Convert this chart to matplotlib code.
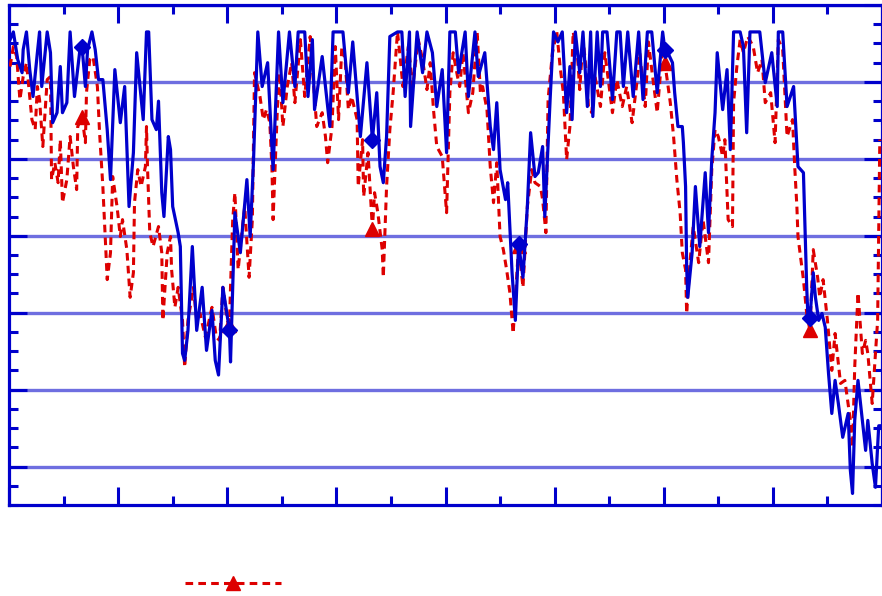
import numpy as np
import matplotlib.pyplot as plt
from matplotlib.lines import Line2D
from matplotlib.ticker import MultipleLocator

# Solid blue series (diamonds)
blue_t = [0.01, 0.04, 0.08, 0.12, 0.13, 0.16, 0.19, 0.22, 0.26, 0.28,
          0.30, 0.35, 0.38, 0.40, 0.44, 0.47, 0.49, 0.53, 0.56, 0.60,
          0.65, 0.67, 0.70, 0.72, 0.76, 0.79, 0.82, 0.86, 0.90, 0.93,
          0.97, 1.02, 1.06, 1.10, 1.14, 1.17, 1.23, 1.26, 1.28, 1.31,
          1.35, 1.37, 1.40, 1.42, 1.46, 1.48, 1.50, 1.55, 1.57, 1.59,
          1.61, 1.64, 1.68, 1.72, 1.77, 1.81, 1.86, 1.89, 1.92, 1.96,
          2.02, 2.03, 2.05, 2.07, 2.12, 2.18, 2.21, 2.24, 2.28, 2.32,
          2.37, 2.42, 2.47, 2.51, 2.57, 2.62, 2.65, 2.71, 2.74, 2.78,
          2.80, 2.87, 2.94, 2.97, 3.06, 3.11, 3.15, 3.22, 3.28, 3.33,
          3.37, 3.40, 3.43, 3.46, 3.49, 3.56, 3.60, 3.63, 3.67, 3.68,
          3.74, 3.79, 3.83, 3.88, 3.92, 3.97, 4.01, 4.04, 4.09, 4.12,
          4.18, 4.21, 4.27, 4.30, 4.36, 4.41, 4.44, 4.47, 4.50, 4.55,
          4.57, 4.61, 4.64, 4.67, 4.71, 4.75, 4.78, 4.82, 4.85, 4.89,
          4.91, 4.96, 4.99, 5.03, 5.07, 5.11, 5.14, 5.16, 5.19, 5.23,
          5.26, 5.30, 5.33, 5.35, 5.39, 5.42, 5.44, 5.48, 5.53, 5.57,
          5.60, 5.63, 5.67, 5.72, 5.77, 5.81, 5.85, 5.89, 5.94, 5.99,
          6.01, 6.03, 6.08, 6.10, 6.13, 6.17, 6.18, 6.20, 6.21, 6.22,
          6.26, 6.29, 6.33, 6.38, 6.41, 6.44, 6.47, 6.49, 6.54, 6.58,
          6.61, 6.64, 6.70, 6.73, 6.76, 6.79, 6.88, 6.93, 6.99, 7.04,
          7.05, 7.09, 7.13, 7.19, 7.22, 7.23, 7.28, 7.31, 7.32, 7.34,
          7.37, 7.39, 7.42, 7.45, 7.48, 7.51, 7.54, 7.57, 7.60, 7.64,
          7.69, 7.71, 7.73, 7.75, 7.78, 7.82, 7.85, 7.87, 7.91, 7.94,
          7.97, 8.00]
blue_v = [5.55, 5.65, 5.29, 5.12, 5.42, 5.65, 5.16, 4.81, 5.38, 5.65,
          4.94, 5.65, 5.38, 4.47, 4.60, 5.20, 4.60, 4.73, 5.65, 4.81,
          5.42, 5.45, 4.94, 5.42, 5.65, 5.42, 5.03, 5.03, 4.38, 3.73,
          5.16, 4.47, 4.94, 3.38, 4.08, 5.38, 4.51, 5.65, 5.65, 4.51,
          4.38, 4.75, 3.56, 3.25, 4.29, 4.12, 3.38, 3.04, 2.86, 1.47,
          1.38, 1.77, 2.86, 1.77, 2.33, 1.51, 2.03, 1.38, 1.19, 2.33,
          1.77, 1.36, 2.33, 3.30, 2.78, 3.73, 2.99, 3.95, 5.65, 4.94,
          5.25, 3.86, 5.65, 4.73, 5.65, 4.94, 5.65, 5.65, 4.81, 5.55,
          4.64, 5.33, 4.42, 5.65, 5.65, 4.86, 5.52, 4.29, 5.25, 4.25,
          4.86, 3.90, 3.69, 4.29, 5.59, 5.65, 5.65, 4.81, 5.65, 4.42,
          5.65, 5.12, 5.65, 5.38, 4.68, 5.16, 4.08, 5.65, 5.65, 5.12,
          5.65, 4.81, 5.65, 5.07, 5.38, 4.42, 4.12, 4.73, 3.86, 3.47,
          3.69, 2.52, 1.90, 2.89, 2.46, 3.38, 4.34, 3.77, 3.82, 4.16,
          3.25, 4.81, 5.65, 5.52, 5.65, 4.60, 5.20, 4.51, 5.65, 5.12,
          5.65, 4.68, 5.65, 4.55, 5.65, 4.94, 5.65, 5.65, 4.77, 5.65,
          5.65, 4.94, 5.65, 4.81, 5.65, 4.77, 5.65, 5.65, 4.86, 5.65,
          5.42, 5.40, 5.25, 4.86, 4.42, 4.42, 4.21, 3.64, 2.59, 2.20,
          2.78, 3.64, 2.86, 3.82, 3.04, 3.99, 4.60, 5.38, 4.64, 5.16,
          4.12, 5.65, 5.65, 5.46, 4.34, 5.65, 5.65, 4.99, 5.38, 4.68,
          5.65, 5.65, 4.68, 4.94, 4.16, 3.90, 3.82, 2.33, 1.99, 1.93,
          2.52, 2.20, 1.90, 1.99, 1.81, 1.21, 0.69, 1.12, 0.82, 0.38,
          0.69, -0.05, -0.35, 0.60, 1.12, 0.60, 0.21, 0.60, 0.04, -0.27,
          0.53, 0.53]

# Dashed red series (triangles)
red_t = [0.01, 0.04, 0.07, 0.10, 0.13, 0.16, 0.21, 0.24, 0.26, 0.28,
         0.31, 0.35, 0.38, 0.39, 0.42, 0.45, 0.47, 0.49, 0.53, 0.56,
         0.59, 0.62, 0.63, 0.67, 0.70, 0.71, 0.74, 0.77, 0.81, 0.83,
         0.86, 0.90, 0.93, 0.95, 0.99, 1.02, 1.04, 1.08, 1.11, 1.14,
         1.15, 1.18, 1.21, 1.25, 1.26, 1.27, 1.29, 1.32, 1.37, 1.40,
         1.41, 1.45, 1.48, 1.49, 1.52, 1.55, 1.59, 1.61, 1.64, 1.69,
         1.72, 1.75, 1.80, 1.86, 1.90, 1.93, 1.96, 2.00, 2.02, 2.03,
         2.05, 2.07, 2.10, 2.14, 2.16, 2.20, 2.23, 2.25, 2.30, 2.33,
         2.36, 2.39, 2.41, 2.42, 2.46, 2.48, 2.51, 2.55, 2.59, 2.62,
         2.67, 2.71, 2.76, 2.79, 2.82, 2.87, 2.90, 2.92, 2.96, 2.99,
         3.02, 3.05, 3.08, 3.11, 3.14, 3.19, 3.20, 3.24, 3.25, 3.29,
         3.33, 3.35, 3.38, 3.42, 3.43, 3.46, 3.49, 3.52, 3.56, 3.58,
         3.61, 3.66, 3.70, 3.75, 3.79, 3.83, 3.86, 3.89, 3.92, 3.97,
         4.01, 4.04, 4.07, 4.11, 4.13, 4.16, 4.21, 4.25, 4.29, 4.32,
         4.34, 4.38, 4.41, 4.44, 4.47, 4.50, 4.53, 4.56, 4.59, 4.62,
         4.67, 4.71, 4.75, 4.79, 4.82, 4.87, 4.89, 4.92, 4.94, 4.98,
         5.02, 5.05, 5.08, 5.11, 5.14, 5.17, 5.21, 5.23, 5.26, 5.28,
         5.31, 5.34, 5.37, 5.42, 5.46, 5.53, 5.57, 5.62, 5.66, 5.71,
         5.76, 5.78, 5.83, 5.86, 5.89, 5.94, 5.99, 6.01, 6.06, 6.09,
         6.12, 6.15, 6.17, 6.20, 6.21, 6.24, 6.27, 6.32, 6.36, 6.41,
         6.44, 6.47, 6.50, 6.54, 6.56, 6.59, 6.63, 6.64, 6.67, 6.70,
         6.73, 6.77, 6.82, 6.86, 6.90, 6.93, 6.98, 7.02, 7.05, 7.09,
         7.13, 7.18, 7.20, 7.22, 7.23, 7.28, 7.31, 7.34, 7.37, 7.41,
         7.43, 7.46, 7.50, 7.54, 7.57, 7.62, 7.66, 7.71, 7.73, 7.75,
         7.78, 7.82, 7.85, 7.87, 7.91, 7.96, 7.98]
red_v = [5.20, 5.46, 5.33, 4.77, 5.07, 5.25, 4.51, 4.38, 4.94, 4.77,
         4.16, 5.03, 5.07, 3.73, 3.95, 3.69, 4.25, 3.43, 3.73, 4.29,
         3.90, 3.60, 4.42, 4.55, 4.21, 4.86, 5.29, 5.33, 4.94, 4.34,
         3.64, 2.43, 2.78, 3.77, 3.38, 2.99, 3.21, 2.82, 2.20, 2.52,
         3.43, 3.86, 3.64, 3.90, 4.42, 3.86, 3.04, 2.86, 3.12, 2.78,
         1.90, 2.78, 2.99, 2.56, 2.07, 2.33, 1.90, 1.29, 1.90, 2.33,
         1.90, 1.99, 1.68, 2.07, 1.68, 1.64, 2.33, 1.90, 1.84, 2.33,
         3.21, 3.56, 2.56, 3.12, 3.38, 2.46, 3.21, 5.12, 4.81, 4.51,
         4.64, 4.47, 3.86, 3.21, 4.68, 5.12, 4.42, 4.94, 5.25, 4.73,
         5.55, 4.81, 5.59, 4.99, 4.42, 4.60, 4.29, 3.95, 4.42, 5.46,
         4.51, 5.46, 5.29, 4.64, 4.81, 4.51, 3.64, 4.25, 3.51, 4.08,
         3.09, 3.56, 3.30, 2.82, 2.46, 3.64, 4.38, 4.86, 5.65, 5.38,
         4.94, 5.46, 4.94, 5.55, 5.29, 4.90, 5.25, 4.64, 4.16, 4.03,
         3.30, 4.86, 5.38, 5.07, 4.94, 5.38, 4.60, 4.86, 5.65, 4.86,
         4.94, 4.64, 3.90, 3.43, 3.95, 2.99, 2.82, 2.56, 2.26, 1.73,
         2.87, 2.33, 3.38, 3.86, 3.69, 3.64, 3.47, 3.04, 4.77, 5.38,
         5.65, 5.20, 4.86, 3.99, 4.42, 5.65, 5.33, 4.90, 5.55, 5.29,
         4.68, 4.60, 5.07, 4.68, 5.38, 4.60, 5.03, 4.68, 4.94, 4.47,
         5.07, 5.38, 4.68, 5.52, 5.16, 4.60, 5.46, 5.25, 4.73, 4.29,
         3.73, 3.30, 2.78, 2.56, 1.99, 2.65, 3.12, 2.65, 3.21, 2.65,
         3.86, 4.38, 4.29, 4.03, 4.25, 3.21, 3.12, 4.73, 5.20, 5.55,
         5.38, 5.59, 5.46, 5.12, 5.29, 4.73, 4.86, 4.21, 5.55, 5.42,
         4.29, 4.51, 3.90, 3.38, 2.99, 2.43, 1.99, 1.77, 2.82, 2.46,
         2.20, 2.43, 1.90, 1.25, 1.73, 1.08, 1.12, 0.60, 0.25, 1.29,
         2.26, 1.47, 1.64, 1.47, 0.82, 1.90, 4.25]

# times where a marker is drawn on each curve
marker_t = [0.67, 2.02, 3.33, 4.67, 6.01, 7.34]

BLUE = '#0000cc'
RED = '#dd0000'
GRID = '#6e6ee0'
DASH = (0, (2.5, 1.7))

blue_t = np.array(blue_t)
red_t = np.array(red_t)
blue_marks = [int(np.argmin(np.abs(blue_t - m))) for m in marker_t]
red_marks = [int(np.argmin(np.abs(red_t - m))) for m in marker_t]

fig = plt.figure(figsize=(8.82, 5.96), dpi=100)
ax = fig.add_axes([9 / 882, 91 / 596, 873 / 882, 500 / 596])

ax.plot(red_t, red_v, color=RED, lw=2.2, linestyle=DASH,
        marker='^', markersize=10, markevery=red_marks, zorder=3)
ax.plot(blue_t, blue_v, color=BLUE, lw=2.3, linestyle='-',
        marker='D', markersize=8.5, markevery=blue_marks, zorder=4)

ax.set_xlim(0, 8)
ax.set_ylim(-0.5, 6)
ax.xaxis.set_major_locator(MultipleLocator(1))
ax.xaxis.set_minor_locator(MultipleLocator(0.5))
ax.yaxis.set_major_locator(MultipleLocator(1))
ax.yaxis.set_minor_locator(MultipleLocator(0.25))

ax.yaxis.grid(True, which='major', color=GRID, lw=2.4, zorder=1)
ax.set_axisbelow(True)

for sp in ax.spines.values():
    sp.set_color(BLUE)
    sp.set_linewidth(2.3)

ax.tick_params(which='both', direction='in', top=True, right=True,
               labelbottom=False, labelleft=False, color=BLUE, width=2.2)
ax.tick_params(which='major', length=13)
ax.tick_params(which='minor', length=6.5)

# legend entry (its text falls outside the picture)
proxy = Line2D([], [], color=RED, lw=2.2, linestyle=DASH,
               marker='^', markersize=10)
fig.legend(handles=[proxy], labels=[''], loc='center left',
           bbox_to_anchor=(185 / 882, 12 / 596), frameon=False,
           handlelength=6.9, borderpad=0, borderaxespad=0, handletextpad=0)

fig.savefig('out.png', dpi=100)
